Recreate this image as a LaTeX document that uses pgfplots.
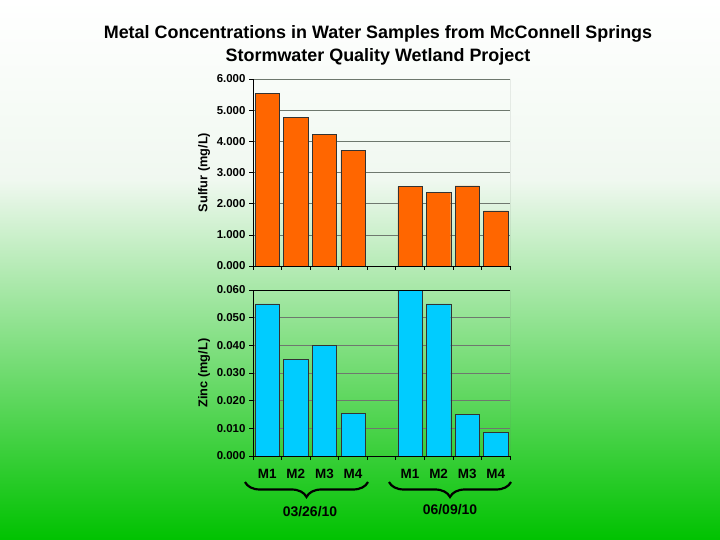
\documentclass[border=0pt]{standalone}
\usepackage{pgfplots}
\pgfplotsset{compat=1.18}
\usepackage{fontspec}
\setmainfont{Liberation Sans}
\usetikzlibrary{decorations.pathreplacing}

\definecolor{sulfurbar}{RGB}{255,102,0}
\definecolor{zincbar}{RGB}{0,204,255}
\definecolor{bgpale}{RGB}{240,248,240}
\definecolor{bgmid}{RGB}{145,216,140}
\definecolor{bggreen}{RGB}{0,194,0}
\definecolor{gridc}{RGB}{110,120,110}

\pgfplotsset{
  metal/.style={
    scale only axis,
    width=257bp,
    xmin=-0.5, xmax=8.5,
    axis lines=left,
    axis line style={-, black, line width=0.8pt},
    tick align=outside,
    major tick length=4bp,
    xtick={-0.5,0.5,...,8.5},
    xticklabels={},
    ymajorgrids,
    grid style={gridc, line width=0.6pt},
    tick style={black, line width=0.6pt},
    scaled y ticks=false,
    /pgf/number format/assume math mode=true,
    yticklabel style={/pgf/number format/fixed, /pgf/number format/fixed zerofill, /pgf/number format/precision=3},
    tick label style={font=\bfseries\fontsize{11.5}{12}\selectfont},
    every axis y label/.style={at={(ticklabel cs:0.5)}, rotate=90, anchor=south, font=\bfseries\fontsize{12.8}{14}\selectfont},
    bar width=0.85,
    every axis plot/.append style={draw=black!80, line width=0.5pt},
  }
}

\begin{document}
\begin{tikzpicture}
% background gradient
\shade[top color=white, bottom color=bgpale] (0bp,360bp) rectangle (720bp,540bp);
\shade[top color=bgpale, middle color=bgmid, bottom color=bggreen] (0bp,0bp) rectangle (720bp,360.5bp);

% title
\node[font=\bfseries\fontsize{18}{23}\selectfont, align=center] at (378bp,495bp)
  {Metal Concentrations in Water Samples from McConnell Springs\\Stormwater Quality Wetland Project};

% sulfur
\begin{axis}[metal,
  at={(253bp,274bp)}, anchor=south west,
  height=187bp,
  ymin=0, ymax=6, ytick={0,1,...,6},
  ylabel={Sulfur (mg/L)},
]
\addplot[ybar, fill=sulfurbar] coordinates {
  (0,5.55) (1,4.78) (2,4.22) (3,3.72)
  (5,2.55) (6,2.36) (7,2.57) (8,1.77)
};
\draw[gridc, line width=0.6pt] (rel axis cs:1,0) -- (rel axis cs:1,1);
\end{axis}

% zinc
\begin{axis}[metal,
  at={(253bp,84bp)}, anchor=south west,
  height=166bp,
  ymin=0, ymax=0.06, ytick={0,0.01,0.02,0.03,0.04,0.05,0.06},
  ylabel={Zinc (mg/L)},
  extra x ticks={0,1,2,3,5,6,7,8},
  extra x tick labels={M1,M2,M3,M4,M1,M2,M3,M4},
  extra x tick style={major tick length=0pt, xticklabel style={yshift=-10bp, font=\bfseries\fontsize{13.5}{14}\selectfont}},
]
\addplot[ybar, fill=zincbar] coordinates {
  (0,0.055) (1,0.035) (2,0.040) (3,0.0155)
  (5,0.060) (6,0.055) (7,0.015) (8,0.0085)
};
\draw[black, line width=0.8pt] (rel axis cs:0,1) -- (rel axis cs:1,1);
\draw[gridc, line width=0.6pt] (rel axis cs:1,0) -- (rel axis cs:1,1);
\end{axis}

% braces
\draw[decorate, decoration={brace, mirror, amplitude=15bp}, line width=2.2pt]
  (245bp,58bp) -- (368bp,58bp);
\draw[decorate, decoration={brace, mirror, amplitude=15bp}, line width=2.2pt]
  (389bp,58bp) -- (511bp,58bp);
\node[font=\bfseries\fontsize{14}{15}\selectfont] at (310bp,28bp) {03/26/10};
\node[font=\bfseries\fontsize{14}{15}\selectfont] at (450bp,30bp) {06/09/10};
\end{tikzpicture}
\end{document}
